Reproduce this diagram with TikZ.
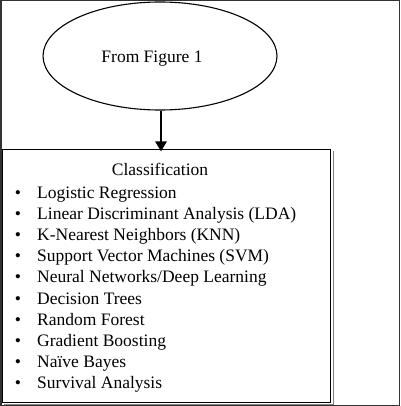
\documentclass[tikz,border=0pt]{standalone}
\usepackage{fontspec}
\setmainfont{Liberation Serif}
\usetikzlibrary{shapes.geometric,arrows.meta}
\definecolor{framegray}{HTML}{333333}
\begin{document}
\begin{tikzpicture}[x=1pt,y=-1pt,
  txt/.style={font=\fontsize{17.5}{21}\selectfont, inner sep=0pt, anchor=base},
  itemtxt/.style={txt, anchor=base west},
  bul/.style={txt},
  shape box/.style={draw=black, line width=1.1pt, inner sep=0pt}]
\useasboundingbox (0,0) rectangle (400,406);
% outer frame
\draw[framegray, line width=1.5pt] (0.75,0.75) rectangle (399.25,405.25);
% ellipse
\node[ellipse, draw=black, line width=1.1pt, minimum width=234pt, minimum height=108pt, inner sep=0pt] (ell) at (160,56) {};
\node[txt] (fromtxt) at (152,63) {From Figure 1};
% box shadow and box
\draw[gray, line width=1pt] (333,151) -- (333,404.5) -- (4,404.5);
\node[shape box, minimum width=328pt, minimum height=253pt] (box) at (166.5,276) {};
% arrow
\draw[line width=2.6pt, -{Triangle[width=11pt,length=10pt]}, shorten >=-2.5pt] (ell.south -| 161,0) -- (161,0 |- box.north);
% text
\node[txt] (title) at (160,175) {Classification};
\foreach \i/\t in {0/{Logistic Regression},
                   1/{Linear Discriminant Analysis (LDA)},
                   2/{K-Nearest Neighbors (KNN)},
                   3/{Support Vector Machines (SVM)},
                   4/{Neural Networks/Deep Learning},
                   5/{Decision Trees},
                   6/{Random Forest},
                   7/{Gradient Boosting},
                   8/{Naïve Bayes},
                   9/{Survival Analysis}}{
  \node[bul] (b\i) at (18,198+21.2*\i) {\textbullet};
  \node[itemtxt] (t\i) at (37,198+21.2*\i) {\t};
}
\end{tikzpicture}
\end{document}
